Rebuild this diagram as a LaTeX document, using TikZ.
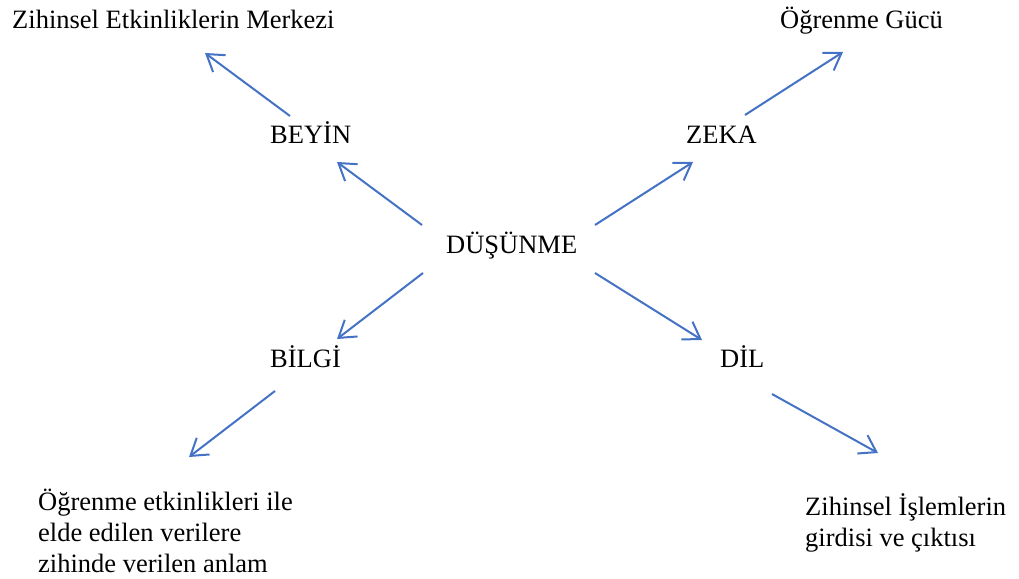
\documentclass[tikz,border=0pt]{standalone}
\usepackage{fontspec}
\setmainfont{Liberation Serif}
\usetikzlibrary{arrows.meta}
\definecolor{linkblue}{HTML}{4472C4}
\tikzset{
  lbl/.style={font=\fontsize{26.5}{31}\selectfont, inner sep=0pt, anchor=base west, align=left},
  arr/.style={draw=linkblue, line width=2pt,
    -{Straight Barb[length=16pt,width=21pt,line width=2pt]}}
}
\begin{document}
\begin{tikzpicture}[x=1pt,y=-1pt]
\useasboundingbox (0,0) rectangle (1019,578);

% concept labels (multi-line labels are placed by their last baseline)
\node[lbl] (merkez) at (12,29)  {Zihinsel Etkinliklerin Merkezi};
\node[lbl] (guc)    at (780,29) {Öğrenme Gücü};
\node[lbl] (beyin)  at (270,143) {BEYİN};
\node[lbl] (zeka)   at (686,143) {ZEKA};
\node[lbl] (dus)    at (446,253) {DÜŞÜNME};
\node[lbl] (bilgi)  at (270,367) {BİLGİ};
\node[lbl] (dil)    at (720,367) {DİL};
\node[lbl] (anlam)  at (38,572)  {Öğrenme etkinlikleri ile\\elde edilen verilere\\zihinde verilen anlam};
\node[lbl] (islem)  at (805,546) {Zihinsel İşlemlerin\\girdisi ve çıktısı};

% arrow end points
\coordinate (beyinOut) at (290,116);  \coordinate (merkezIn) at (205,53);
\coordinate (dusNW)    at (422,225);  \coordinate (beyinIn)  at (337,162);
\coordinate (dusNE)    at (595,225);  \coordinate (zekaIn)   at (693,162);
\coordinate (zekaOut)  at (745,115);  \coordinate (gucIn)    at (843,52);
\coordinate (dusSW)    at (423,273);  \coordinate (bilgiIn)  at (337,339);
\coordinate (bilgiOut) at (275,391);  \coordinate (anlamIn)  at (189,457);
\coordinate (dusSE)    at (595,273);  \coordinate (dilIn)    at (702,340);
\coordinate (dilOut)   at (772,394);  \coordinate (islemIn)  at (878,453);

% connectors
\draw[arr] (beyinOut) -- (merkezIn);
\draw[arr] (dusNW) -- (beyinIn);
\draw[arr] (dusNE) -- (zekaIn);
\draw[arr] (zekaOut) -- (gucIn);
\draw[arr] (dusSW) -- (bilgiIn);
\draw[arr] (bilgiOut) -- (anlamIn);
\draw[arr] (dusSE) -- (dilIn);
\draw[arr] (dilOut) -- (islemIn);
\end{tikzpicture}
\end{document}
